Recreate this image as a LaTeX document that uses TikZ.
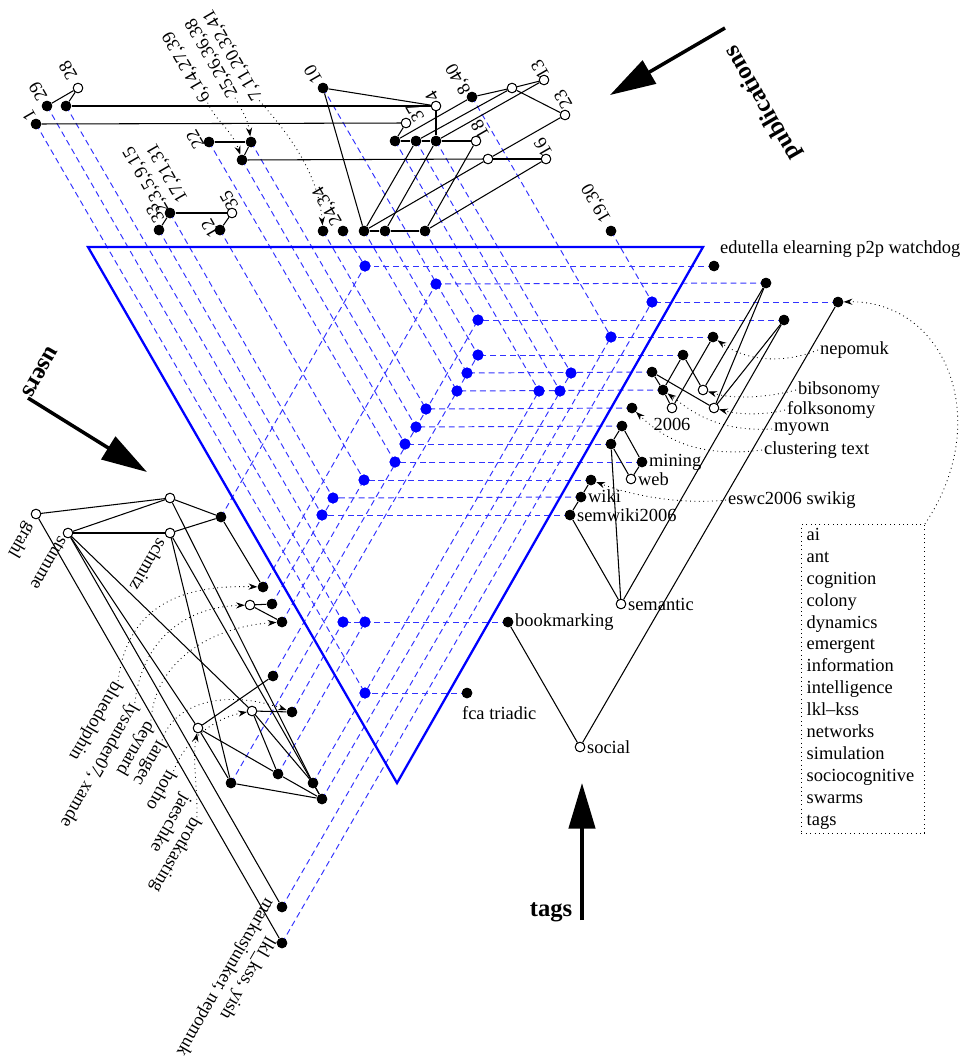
\documentclass[tikz,border=0pt]{standalone}
\usepackage{fontspec}
\setmainfont{Liberation Serif}
\usetikzlibrary{arrows.meta}
\definecolor{dblue}{RGB}{50,50,255}
\newcommand\lab{\fontsize{10.5}{12.5}\selectfont}
\tikzset{
  bn/.style={circle,fill=black,inner sep=0pt,minimum size=0.21cm},
  wn/.style={circle,draw=black,fill=white,line width=0.5pt,inner sep=0pt,minimum size=0.19cm},
  bd/.style={circle,fill=blue,inner sep=0pt,minimum size=0.22cm},
  edge/.style={line width=0.6pt},
  bdash/.style={draw=dblue,line width=0.55pt,dash pattern=on 3.4pt off 2.2pt},
  tri/.style={draw=blue,line width=1.3pt},
  dotarrow/.style={dotted,line width=0.5pt,-{Stealth[length=5pt,width=3.5pt]}},
  plab/.style={rotate=120,inner sep=1pt,font=\lab},
  ulab/.style={rotate=240,inner sep=1pt,font=\lab},
  tlab/.style={anchor=west,inner sep=1pt,font=\lab},
  axis/.style={line width=2pt,-{Triangle[length=26pt,width=15pt]}},
  axlab/.style={font=\bfseries\fontsize{14}{16}\selectfont,inner sep=0pt}
}
\begin{document}
\begin{tikzpicture}[x=0.02cm,y=-0.02cm]
\useasboundingbox (0,0) rectangle (967,1058);
% ---------- blue dots ----------
\node[bd] (B1) at (365,266) {};
\node[bd] (B2) at (436,284) {};
\node[bd] (B3) at (652,302) {};
\node[bd] (B4) at (478,320) {};
\node[bd] (B5) at (611,337) {};
\node[bd] (B6) at (478,355) {};
\node[bd] (B7) at (467,373) {};
\node[bd] (B8) at (571,373) {};
\node[bd] (B9) at (457,391) {};
\node[bd] (B10) at (539,391) {};
\node[bd] (B11) at (560,391) {};
\node[bd] (B12) at (426,409) {};
\node[bd] (B13) at (416,427) {};
\node[bd] (B14) at (405,444) {};
\node[bd] (B15) at (395,462) {};
\node[bd] (B16) at (364,480) {};
\node[bd] (B17) at (333,498) {};
\node[bd] (B18) at (322,515) {};
\node[bd] (B19) at (343,622) {};
\node[bd] (B20) at (365,622) {};
\node[bd] (B21) at (365,693) {};
% ---------- publication nodes ----------
\node[bn] (p1) at (36,124) {};
\node[bn] (p29) at (47,106) {};
\node[bn] (pq) at (66,106) {};
\node[wn] (p28) at (78,88) {};
\node[bn] (p22) at (209,142) {};
\node[bn] (pr) at (251,142) {};
\node[bn] (ps) at (242,160) {};
\node[bn] (p33) at (159,230) {};
\node[bn] (pt) at (170,213) {};
\node[wn] (p35) at (232,213) {};
\node[bn] (p12) at (220,230) {};
\node[bn] (p10) at (323,88) {};
\node[bn] (pu) at (323,231) {};
\node[bn] (p24) at (343,231) {};
\node[bn] (pv) at (364,231) {};
\node[bn] (pw) at (385,231) {};
\node[bn] (px) at (425,231) {};
\node[wn] (p4) at (436,106) {};
\node[wn] (p37) at (406,123) {};
\node[bn] (py) at (395,141) {};
\node[bn] (pz) at (416,141) {};
\node[bn] (paa) at (436,141) {};
\node[wn] (p18) at (476,141) {};
\node[bn] (p840) at (472,97) {};
\node[wn] (pbb) at (512,88) {};
\node[wn] (p13) at (544,80) {};
\node[wn] (p23) at (565,115) {};
\node[wn] (pcc) at (488,159) {};
\node[wn] (p16) at (546,159) {};
\node[bn] (p1930) at (611,231) {};
% ---------- user nodes ----------
\node[wn] (ugrahl) at (36,514) {};
\node[wn] (ustumme) at (68,533) {};
\node[wn] (ua) at (170,498) {};
\node[wn] (uschmitz) at (170,533) {};
\node[bn] (ub) at (221,517) {};
\node[bn] (uc) at (263,587) {};
\node[wn] (ud) at (250,605) {};
\node[bn] (ue) at (272,604) {};
\node[bn] (uf) at (282,622) {};
\node[bn] (ug) at (273,676) {};
\node[wn] (uh) at (252,711) {};
\node[bn] (ui) at (292,712) {};
\node[wn] (uj) at (198,728) {};
\node[bn] (uk) at (278,774) {};
\node[bn] (ul) at (231,783) {};
\node[bn] (um) at (313,783) {};
\node[bn] (un) at (322,799) {};
\node[bn] (uo) at (282,907) {};
\node[bn] (up) at (282,943) {};
% ---------- tag nodes ----------
\node[bn] (tA) at (714,266) {};
\node[bn] (tB) at (766,283) {};
\node[bn] (tC) at (838,302) {};
\node[bn] (tD) at (784,320) {};
\node[bn] (tE) at (713,337) {};
\node[bn] (tF) at (683,355) {};
\node[bn] (tG) at (652,372) {};
\node[bn] (tH) at (663,390) {};
\node[wn] (tbib) at (703,390) {};
\node[wn] (tfolk) at (714,408) {};
\node[wn] (t2006) at (672,408) {};
\node[bn] (tclu) at (632,408) {};
\node[bn] (tI) at (622,426) {};
\node[bn] (tJ) at (611,444) {};
\node[bn] (tmin) at (642,462) {};
\node[wn] (tweb) at (631,479) {};
\node[bn] (tesw) at (591,480) {};
\node[bn] (twiki) at (581,497) {};
\node[bn] (tsemw) at (570,515) {};
\node[wn] (tsem) at (621,604) {};
\node[bn] (tbook) at (508,622) {};
\node[bn] (tfca) at (467,693) {};
\node[wn] (tsoc) at (580,747) {};
% ---------- blue dashed lines ----------
\foreach \a/\b in {p24/B1,p10/B6,p1930/B3,px/B4,p840/B5,pw/B7,paa/B8,pv/B9,py/B10,pz/B11,pu/B12,pr/B13,ps/B14,p22/B15,p12/B16,pt/B17,p33/B18,p29/B19,pq/B20,p1/B21,
  ub/B1,uc/B2,up/B3,ug/B4,uo/B5,ul/B6,un/B8,um/B10,uf/B16,ue/B17,ui/B19,uk/B20,
  tA/B1,tB/B2,tC/B3,tD/B4,tE/B5,tF/B6,tG/B7,tH/B9,tclu/B12,tI/B13,tJ/B14,tmin/B15,tesw/B16,twiki/B17,tsemw/B18,tbook/B19,tfca/B21}
  {\draw[bdash] (\a.center) -- (\b.center);}
% ---------- triangle ----------
\coordinate (T1) at (88,247);
\coordinate (T2) at (703,247);
\coordinate (T3) at (397,783);
\draw[tri] (T1) -- (T2) -- (T3) -- cycle;
% ---------- lattice edges ----------
\foreach \a/\b in {p29/p28,pq/p28,pq/p4,p1/p37,p22/pr,pr/ps,ps/pcc,pcc/p16,pt/p33,pt/p35,p35/p12,
  p10/p4,p10/pv,p37/py,py/pz,pz/paa,paa/p18,p4/paa,py/p840,pz/pbb,paa/p13,p840/pbb,pbb/p13,pbb/p23,p23/pcc,
  pv/pw,pw/px,pv/pz,pv/pcc,pw/paa,px/p18,px/p16,
  ugrahl/ua,ugrahl/up,ustumme/ua,ustumme/uschmitz,ustumme/uo,ustumme/uh,ustumme/uj,ua/ub,uschmitz/ub,ub/uc,
  ud/ue,ud/uf,uj/ug,uh/ui,uj/ul,uj/uk,uh/uk,uh/um,ul/un,uk/un,um/un,uschmitz/ul,uschmitz/un,ua/um,
  tB/tbib,tB/tfolk,tD/tfolk,tD/tsem,tC/tsoc,tE/t2006,tF/tbib,tF/tH,tG/tH,tG/tfolk,tH/t2006,
  tI/tJ,tI/tmin,tJ/tweb,tmin/tweb,tJ/tsem,tesw/twiki,twiki/tsemw,tsemw/tsem,tbook/tsoc}
  {\draw[edge] (\a) -- (\b);}
% redraw nodes on top
\foreach \n in {B1,B2,B3,B4,B5,B6,B7,B8,B9,B10,B11,B12,B13,B14,B15,B16,B17,B18,B19,B20,B21}
  {\fill[blue] (\n) circle (0.11cm);}
\foreach \n in {p1,p29,pq,p22,pr,ps,p33,pt,p12,p10,pu,p24,pv,pw,px,py,pz,paa,p840,p1930,
  ub,uc,ue,uf,ug,ui,uk,ul,um,un,uo,up,tA,tB,tC,tD,tE,tF,tG,tH,tclu,tI,tJ,tmin,tesw,twiki,tsemw,tbook,tfca}
  {\fill (\n) circle (0.105cm);}
\foreach \n in {p28,p35,p4,p37,p18,pbb,p13,p23,pcc,p16,ugrahl,ustumme,ua,uschmitz,ud,uh,uj,tbib,tfolk,t2006,tweb,tsem,tsoc}
  {\filldraw[fill=white,draw=black,line width=0.5pt] (\n) circle (0.095cm);}
% ---------- publication labels ----------
\node[plab] (l1) at (29,116) {1};
\node[plab] (l29) at (38,92) {29};
\node[plab] (l28) at (68,71) {28};
\node[plab] (l22) at (195,140) {22};
\node[plab] (l6) at (187,67) {6,14,27,39};
\node[plab] (l25) at (212,58) {25,26,36,38};
\node[plab] (l7) at (233,55) {7,11,20,32,41};
\node[plab] (l33) at (155,214) {33};
\node[plab,align=left] (l2) at (156,174) {2,3,5,9,15\\17,21,31};
\node[plab] (l35) at (229,201) {35};
\node[plab] (l12) at (210,229) {12};
\node[plab] (l10) at (313,75) {10};
\node[plab] (l24) at (328,206) {24,34};
\node[plab] (l4) at (432,97) {4};
\node[plab] (l37) at (415,113) {37};
\node[plab] (l18) at (480,130) {18};
\node[plab] (l840) at (459,79) {8,40};
\node[plab] (l13) at (540,70) {13};
\node[plab] (l23) at (563,100) {23};
\node[plab] (l16) at (543,148) {16};
\node[plab] (l1930) at (597,203) {19,30};
\draw[dotarrow] (l6.west) .. controls (215,120) and (232,130) .. (ps);
\draw[dotarrow] (l25.west) .. controls (242,110) and (248,120) .. (pr);
\draw[dotarrow] (l7.west) .. controls (285,130) and (318,170) .. (pu);
% ---------- tag labels ----------
\node[tlab] (ledu) at (718,249) {edutella elearning p2p watchdog};
\node[tlab] (lnep) at (818,350) {nepomuk};
\node[tlab] (lbib) at (796,390) {bibsonomy};
\node[tlab] (lfolk) at (785,410) {folksonomy};
\node[tlab] (lmy) at (772,429) {myown};
\node[tlab] (lclu) at (762,450) {clustering text};
\node[font=\lab,inner sep=1pt] (l2006) at (672,424) {2006};
\node[tlab] (lmin) at (647,462) {mining};
\node[tlab] (lweb) at (636,479) {web};
\node[tlab] (lesw) at (726,500) {eswc2006 swikig};
\node[tlab] (lwiki) at (586,496) {wiki};
\node[tlab] (lsemw) at (575,515) {semwiki2006};
\node[tlab] (lsem) at (626,604) {semantic};
\node[tlab] (lbook) at (513,622) {bookmarking};
\node[tlab] (lfca) at (460,713) {fca triadic};
\node[tlab] (lsoc) at (585,747) {social};
\draw[dotarrow] (lnep.west) .. controls (780,365) and (745,360) .. (tE);
\draw[dotarrow] (lbib.west) .. controls (770,397) and (735,400) .. (tbib);
\draw[dotarrow] (lfolk.west) .. controls (765,415) and (740,415) .. (tfolk);
\draw[dotarrow] (lmy.west) .. controls (715,432) and (690,410) .. (tH);
\draw[dotarrow] (lclu.west) .. controls (700,458) and (665,440) .. (tclu);
\draw[dotarrow] (lesw.west) .. controls (680,505) and (630,495) .. (tesw);
% box
\node[draw,dotted,line width=0.5pt,font=\lab,align=left,anchor=north west,inner xsep=3pt,inner ysep=2pt,text width=2.25cm] (box) at (801,524)
 {ai\\ant\\cognition\\colony\\dynamics\\emergent\\information\\intelligence\\lkl--kss\\networks\\simulation\\sociocognitive\\swarms\\tags};
\draw[dotarrow] (box.north east) .. controls (995,420) and (945,300) .. (tC);
% ---------- user labels ----------
\node[ulab] (lgrahl) at (21,540) {grahl};
\node[ulab] (lstumme) at (49,563) {stumme};
\node[ulab] (lschmitz) at (149,565) {schmitz};
\node[ulab] (lblue) at (95,721) {bluedolphin};
\node[ulab] (llys) at (99,765) {lysander07, xamde};
\node[ulab] (ldey) at (135,748) {deynard};
\node[ulab] (llang) at (149,763) {langec};
\node[ulab] (lhot) at (162,791) {hotho};
\node[ulab] (ljae) at (170,823) {jaeschke};
\node[ulab] (lbrot) at (175,855) {brotkasting};
\node[ulab] (lmark) at (225,977) {markusjunker, nepomuk};
\node[ulab] (llkl) at (247,978) {lkl\_kss, yish};
\draw[dotarrow] (lblue.west) .. controls (128,600) and (190,585) .. (uc);
\draw[dotarrow] (llys.west) .. controls (142,640) and (185,607) .. (ud);
\draw[dotarrow] (ldey.west) .. controls (155,662) and (210,627) .. (uf);
\draw[dotarrow] (llang.west) .. controls (175,700) and (230,690) .. (ui);
\draw[dotarrow] (lhot.west) .. controls (185,740) and (215,718) .. (uh);
\draw[dotarrow] (lbrot.west) .. controls (198,790) and (192,760) .. (uj);
% ---------- axes ----------
\coordinate (pubA) at (725,28);
\coordinate (pubB) at (610,95);
\draw[axis] (pubA) -- (pubB);
\node[axlab,rotate=120] (lpub) at (763,103) {publications};
\coordinate (usA) at (28,398);
\coordinate (usB) at (147,472);
\draw[axis] (usA) -- (usB);
\node[axlab,rotate=240] (lus) at (40,372) {users};
\coordinate (tgA) at (582,920);
\coordinate (tgB) at (582,783);
\draw[axis] (tgA) -- (tgB);
\node[axlab] (ltg) at (551,912) {tags};
\end{tikzpicture}
\end{document}
